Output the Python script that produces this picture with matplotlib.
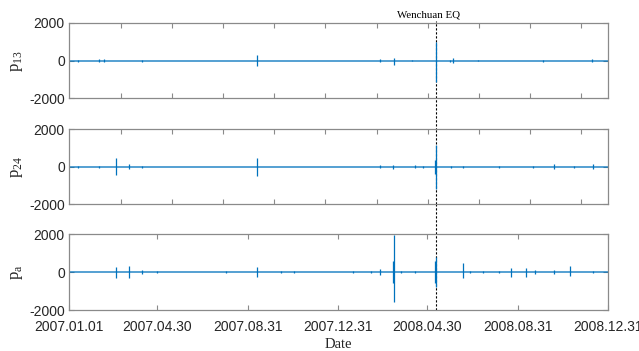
import matplotlib
matplotlib.use("Agg")
import matplotlib.pyplot as plt
import matplotlib.dates as mdates
import matplotlib.transforms as mtransforms
from matplotlib.lines import Line2D
import numpy as np
import pandas as pd

plt.rcParams['font.family'] = ['Liberation Sans', 'DejaVu Sans']
plt.rcParams['mathtext.fontset'] = 'custom'
plt.rcParams['mathtext.rm'] = 'Liberation Serif'
plt.rcParams['axes.unicode_minus'] = False

start = "2007-01-01"
end = "2008-12-31"
quake_date = "2008-05-12"
quake_label = "Wenchuan EQ"

date_ticks = ["2007-01-01", "2007-04-30", "2007-08-31", "2007-12-31",
              "2008-04-30", "2008-08-31", "2008-12-31"]
date_labels = ["2007.01.01", "2007.04.30", "2007.08.31", "2007.12.31",
               "2008.04.30", "2008.08.31", "2008.12.31"]

# spikes: date, upper and lower excursion
p13_dates = ["2007-01-13", "2007-02-11", "2007-02-17", "2007-04-10", "2007-09-13",
             "2008-02-26", "2008-03-16", "2008-04-09", "2008-05-12", "2008-05-31",
             "2008-06-04", "2008-07-08", "2008-10-04", "2008-12-09"]
p13_up = [60, 70, 70, 50, 320, 80, 150, 40, 975, 50, 120, 40, 60, 80]
p13_down = [60, 70, 70, 50, 270, 80, 210, 40, 1150, 50, 120, 40, 60, 80]

p24_dates = ["2007-01-13", "2007-02-11", "2007-03-05", "2007-03-23", "2007-04-10",
             "2007-09-13", "2008-02-26", "2008-03-15", "2008-04-14", "2008-04-24",
             "2008-05-11", "2008-05-12", "2008-06-02", "2008-06-17", "2008-08-05",
             "2008-09-20", "2008-10-19", "2008-11-15", "2008-12-10"]
p24_up = [50, 50, 460, 140, 60, 480, 70, 100, 80, 60,
          350, 1140, 60, 50, 60, 50, 120, 60, 120]
p24_down = [50, 50, 460, 140, 60, 480, 70, 100, 80, 60,
            400, 1170, 60, 50, 60, 50, 120, 60, 120]

pa_dates = ["2007-03-05", "2007-03-23", "2007-04-10", "2007-04-30", "2007-08-01",
            "2007-09-13", "2007-10-15", "2007-11-02", "2008-01-20", "2008-02-14",
            "2008-02-26", "2008-03-15", "2008-03-16", "2008-03-26", "2008-04-13",
            "2008-05-11", "2008-05-12", "2008-06-17", "2008-06-27", "2008-07-15",
            "2008-08-05", "2008-08-22", "2008-09-11", "2008-09-23", "2008-10-19",
            "2008-11-10", "2008-12-10"]
pa_up = [280, 290, 80, 30, 40, 250, 30, 30, 40, 60,
         150, 560, 1950, 60, 60, 570, 800, 450, 60, 40,
         50, 190, 190, 120, 80, 320, 60]
pa_down = [300, 290, 80, 30, 40, 240, 30, 30, 40, 60,
           150, 560, 1560, 60, 60, 570, 800, 300, 60, 40,
           50, 245, 280, 120, 80, 210, 60]

panels = [
    (r"$\mathrm{p}_{13}$", p13_dates, p13_up, p13_down),
    (r"$\mathrm{p}_{24}$", p24_dates, p24_up, p24_down),
    (r"$\mathrm{p}_{\mathrm{a}}$", pa_dates, pa_up, pa_down),
]

blue = "#0072BD"
spine_gray = "#8a8a8a"
text_gray = "#262626"
dash = (0, (2, 1.6))

fig = plt.figure(figsize=(6.39, 3.51), dpi=100)
boxes = [[0.108, 0.7194, 0.8435, 0.2151],
         [0.108, 0.4179, 0.8435, 0.2145],
         [0.108, 0.1168, 0.8435, 0.2165]]

x0 = mdates.date2num(pd.Timestamp(start))
x1 = mdates.date2num(pd.Timestamp(end))
x_eq = mdates.date2num(pd.Timestamp(quake_date))
# the upper panels carry unlabeled ticks at a different spacing
top_ticks = x0 + 70 + 69.3 * np.arange(10)

axes = []
for i, (label, dates, up, down) in enumerate(panels):
    ax = fig.add_axes(boxes[i])
    t = mdates.date2num(pd.to_datetime(dates))
    ax.axvline(x_eq, color="black", ls=dash, lw=0.8, zorder=1)
    ax.plot([x0, x1], [0, 0], color=blue, lw=1.1, alpha=0.85, zorder=2)
    ax.vlines(t, -np.array(down), np.array(up), color=blue, lw=0.9, zorder=3)
    ax.set_xlim(x0, x1)
    ax.set_ylim(-2000, 2000)
    ax.set_yticks([-2000, 0, 2000])
    ax.tick_params(direction="in", length=3.5, width=0.8, colors=spine_gray,
                   labelcolor=text_gray, labelsize=10, top=True, right=True, pad=3)
    ax.tick_params(axis="x", pad=7)
    for s in ax.spines.values():
        s.set_color(spine_gray)
        s.set_linewidth(0.9)
    ax.set_ylabel(label, fontsize=12, color=text_gray, labelpad=0)
    ax.yaxis.set_label_coords(-0.082, 0.5)
    if i < 2:
        ax.set_xticks(top_ticks)
        ax.set_xticklabels([])
    else:
        ax.set_xticks(mdates.date2num(pd.to_datetime(date_ticks)))
        ax.set_xticklabels(date_labels)
        ax.set_xlabel("Date", family="Liberation Serif", fontsize=10.5,
                      color=text_gray, labelpad=3)
    axes.append(ax)

# dashed marker in the gaps between panels (kept beneath the axes)
trans = mtransforms.blended_transform_factory(axes[2].transData, fig.transFigure)
fig.add_artist(Line2D([x_eq, x_eq], [0.1168, 0.94], transform=trans,
                      color="black", ls=dash, lw=0.8, zorder=-1))
label_trans = mtransforms.offset_copy(trans, fig=fig, x=-5, y=0, units="points")
fig.text(x_eq, 0.957, quake_label, transform=label_trans, ha="center", va="center",
         family="Liberation Serif", fontsize=7.8, color="black")

fig.savefig("out.png", dpi=100)
